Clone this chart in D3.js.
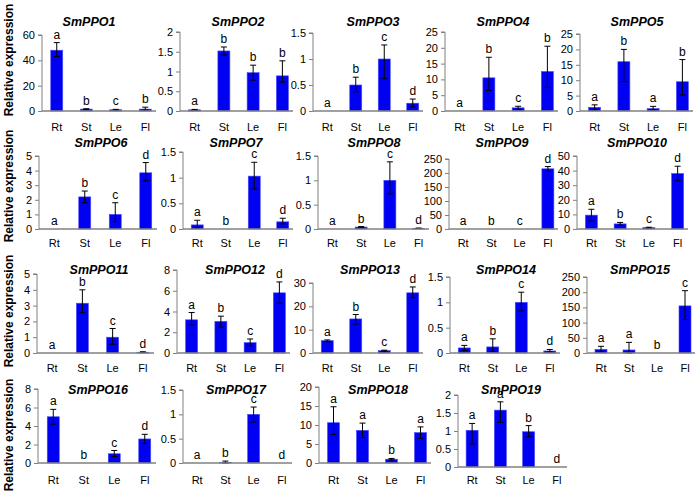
<!DOCTYPE html>
<html><head><meta charset="utf-8">
<script src="https://cdn.jsdelivr.net/npm/d3@7"></script>
<style>body{margin:0;background:#fff}svg{display:block}text{font-family:"Liberation Sans",Arial,sans-serif}</style>
</head><body><svg id="c" width="700" height="498"></svg>
<script>
const tissues = ["Rt","St","Le","Fl"];
const genes = ["SmPPO1","SmPPO2","SmPPO3","SmPPO4","SmPPO5","SmPPO6","SmPPO7","SmPPO8","SmPPO9","SmPPO10",
  "SmPPO11","SmPPO12","SmPPO13","SmPPO14","SmPPO15","SmPPO16","SmPPO17","SmPPO18","SmPPO19"];
const means = [
  [48,1.5,1,1.5],[0.03,1.52,0.97,0.89],[0,0.5,1.0,0.15],[0,10.5,1,12.5],[1.2,16,0.8,9.5],
  [0,2.2,1.0,3.85],[0.08,0,1.03,0.14],[0,0.04,1.0,0.01],[0,0,0,215],[9.5,3.5,1,38],
  [0,3.15,1.0,0.05],[3.2,3.05,1.0,5.8],[5.3,14.6,1,25.8],[0.1,0.12,1.0,0.04],[12,10,0,155],
  [5.0,0,1.0,2.6],[0,0.01,1.0,0],[10.6,8.6,1.0,8.0],[1.02,1.58,0.98,0]
];
const errLow = [
  [43,1.2,0.7,0.8],[0.02,1.42,0.78,0.73],[0,0.37,0.62,0.08],[0,6.5,0.5,7.5],[0.3,9.5,0.3,5.2],
  [0,1.8,0.5,3.3],[0.02,0,0.78,0.1],[0,0.03,0.72,0.01],[0,0,0,206],[5.5,2.5,0.5,33],
  [0,2.55,0.55,0.03],[2.7,2.5,0.7,4.8],[4.8,12.4,0.8,23.7],[0.05,0.03,0.83,0.02],[5,0,0,110],
  [4.2,0,0.7,2.1],[0,0,0.84,0],[7.5,6.7,0.8,6.5],[0.64,1.24,0.84,0]
];
const errHigh = [
  [54,1.8,1.3,3],[0.04,1.62,1.16,1.27],[0,0.65,1.27,0.23],[0,17,1.5,20.5],[2,20,1.5,16.7],
  [0,2.6,1.8,4.55],[0.17,0,1.3,0.21],[0,0.05,1.38,0.02],[0,0,0,223],[13.5,4.5,1.2,43],
  [0,4,1.55,0.08],[3.9,3.55,1.35,6.85],[5.6,16.5,1.2,28.3],[0.15,0.28,1.2,0.07],[22,35,0,205],
  [5.8,0,1.35,3.1],[0,0.04,1.15,0],[14.8,10.5,1.2,9.5],[1.21,1.81,1.15,0]
];
const letters = [
  "abcb","abbb","abcd","abcb","abab","abcd","abcd","abcd","abcd","abcd",
  "abcd","abcd","abcd","abcd","aabc","abcd","abcd","aaba","aabd"
];
const yMax  = [60,2,1.5,25,25,5,1.5,1.5,250,50,5,8,30,1.5,250,8,1.5,20,2];
const yStep = [20,0.5,0.5,5,5,1,0.5,0.5,50,10,1,2,10,0.5,50,2,0.5,5,0.5];
const yLabel = "Relative expression";

// layout (positions only)
const rows = [
  {title:26, xl:131, yc:60},
  {title:147, xl:247, yc:186},
  {title:274, xl:372, yc:311},
  {title:394, xl:484, yc:435}
];
const panelX = [42,180,313,445,580, 39,183,318,449,577, 37,177,313,450,587, 38,183,319,458];
const panelW = [118,117,114,117,117, 122,114,115,113,115, 121,117,114,114,112, 122,113,116,113];
const titleX = [89,238,373,503,637, 101,236,374,502,637, 99,235,370,506,640, 98,236,378,511];
const panelRow = [0,0,0,0,0,1,1,1,1,1,2,2,2,2,2,3,3,3,3];
const panelTop = [35,32,33,32,34, 156,152,156,159,156, 274,270,283,277,277, 389,390,387,395];
const panelBase = [111,111,111,111,111, 229,229,229,229,229, 353,353,353,353,353, 463,463,463,467];

const svg = d3.select("#c");
const fmt = d3.format("~g");
const barW = 12;

genes.forEach((g,i)=>{
  const r = rows[panelRow[i]];
  const x0 = panelX[i], W = panelW[i];
  const x = d3.scalePoint().domain(tissues).range([x0, x0+W]).padding(0.5);
  const y = d3.scaleLinear().domain([0, yMax[i]]).range([panelBase[i], panelTop[i]]);
  const gp = svg.append("g");
  const ticks = d3.range(0, yMax[i]+yStep[i]/2, yStep[i]);
  const ax = gp.append("g").attr("transform",`translate(${x0},0)`)
    .call(d3.axisLeft(y).tickValues(ticks).tickFormat(fmt).tickSize(4).tickPadding(3));
  ax.select(".domain").attr("stroke","#808080").attr("d",`M-4,${panelTop[i]}H0V${panelBase[i]}`);
  ax.selectAll(".tick line").attr("stroke","#808080");
  ax.selectAll(".tick text").attr("font-size",11).attr("fill","#000");
  const data = tissues.map((t,j)=>({t, v:means[i][j], lo:errLow[i][j], hi:errHigh[i][j], l:letters[i][j]}));
  gp.selectAll("rect").data(data).join("rect")
    .attr("x",d=>x(d.t)-barW/2).attr("width",barW)
    .attr("y",d=>y(d.v)).attr("height",d=>y(0)-y(d.v))
    .attr("fill","#0000f2").attr("stroke","#4a4aff").attr("stroke-width",0.6);
  const eb = data.filter(d=>d.hi>d.lo);
  gp.selectAll("path.err").data(eb).join("path").attr("class","err")
    .attr("d",d=>{const cx=x(d.t), a=y(d.hi), b=y(d.lo);
      return `M${cx-3},${a}H${cx+3}M${cx},${a}V${b}M${cx-3},${b}H${cx+3}`;})
    .attr("stroke","#000").attr("stroke-width",1).attr("fill","none");
  gp.append("line").attr("x1",x0).attr("x2",x0+W-4).attr("y1",panelBase[i]).attr("y2",panelBase[i])
    .attr("stroke","#808080").attr("stroke-width",1.6);
  gp.selectAll("text.lt").data(data).join("text").attr("class","lt")
    .attr("x",d=>x(d.t)).attr("y",d=>y(Math.max(d.hi,d.v))-4)
    .attr("text-anchor","middle").attr("font-size",12).text(d=>d.l);
  gp.selectAll("text.xl").data(tissues).join("text").attr("class","xl")
    .attr("x",d=>x(d)).attr("y",r.xl).attr("text-anchor","middle").attr("font-size",11).text(d=>d);
  gp.append("text").attr("x",titleX[i]).attr("y",r.title).attr("text-anchor","middle")
    .attr("font-size",12.5).attr("font-weight","bold").attr("font-style","italic").text(g);
});
rows.forEach(r=>{
  svg.append("text").attr("transform",`translate(13,${r.yc}) rotate(-90)`)
    .attr("text-anchor","middle").attr("font-size",12).attr("font-weight","bold").text(yLabel);
});
</script></body></html>
